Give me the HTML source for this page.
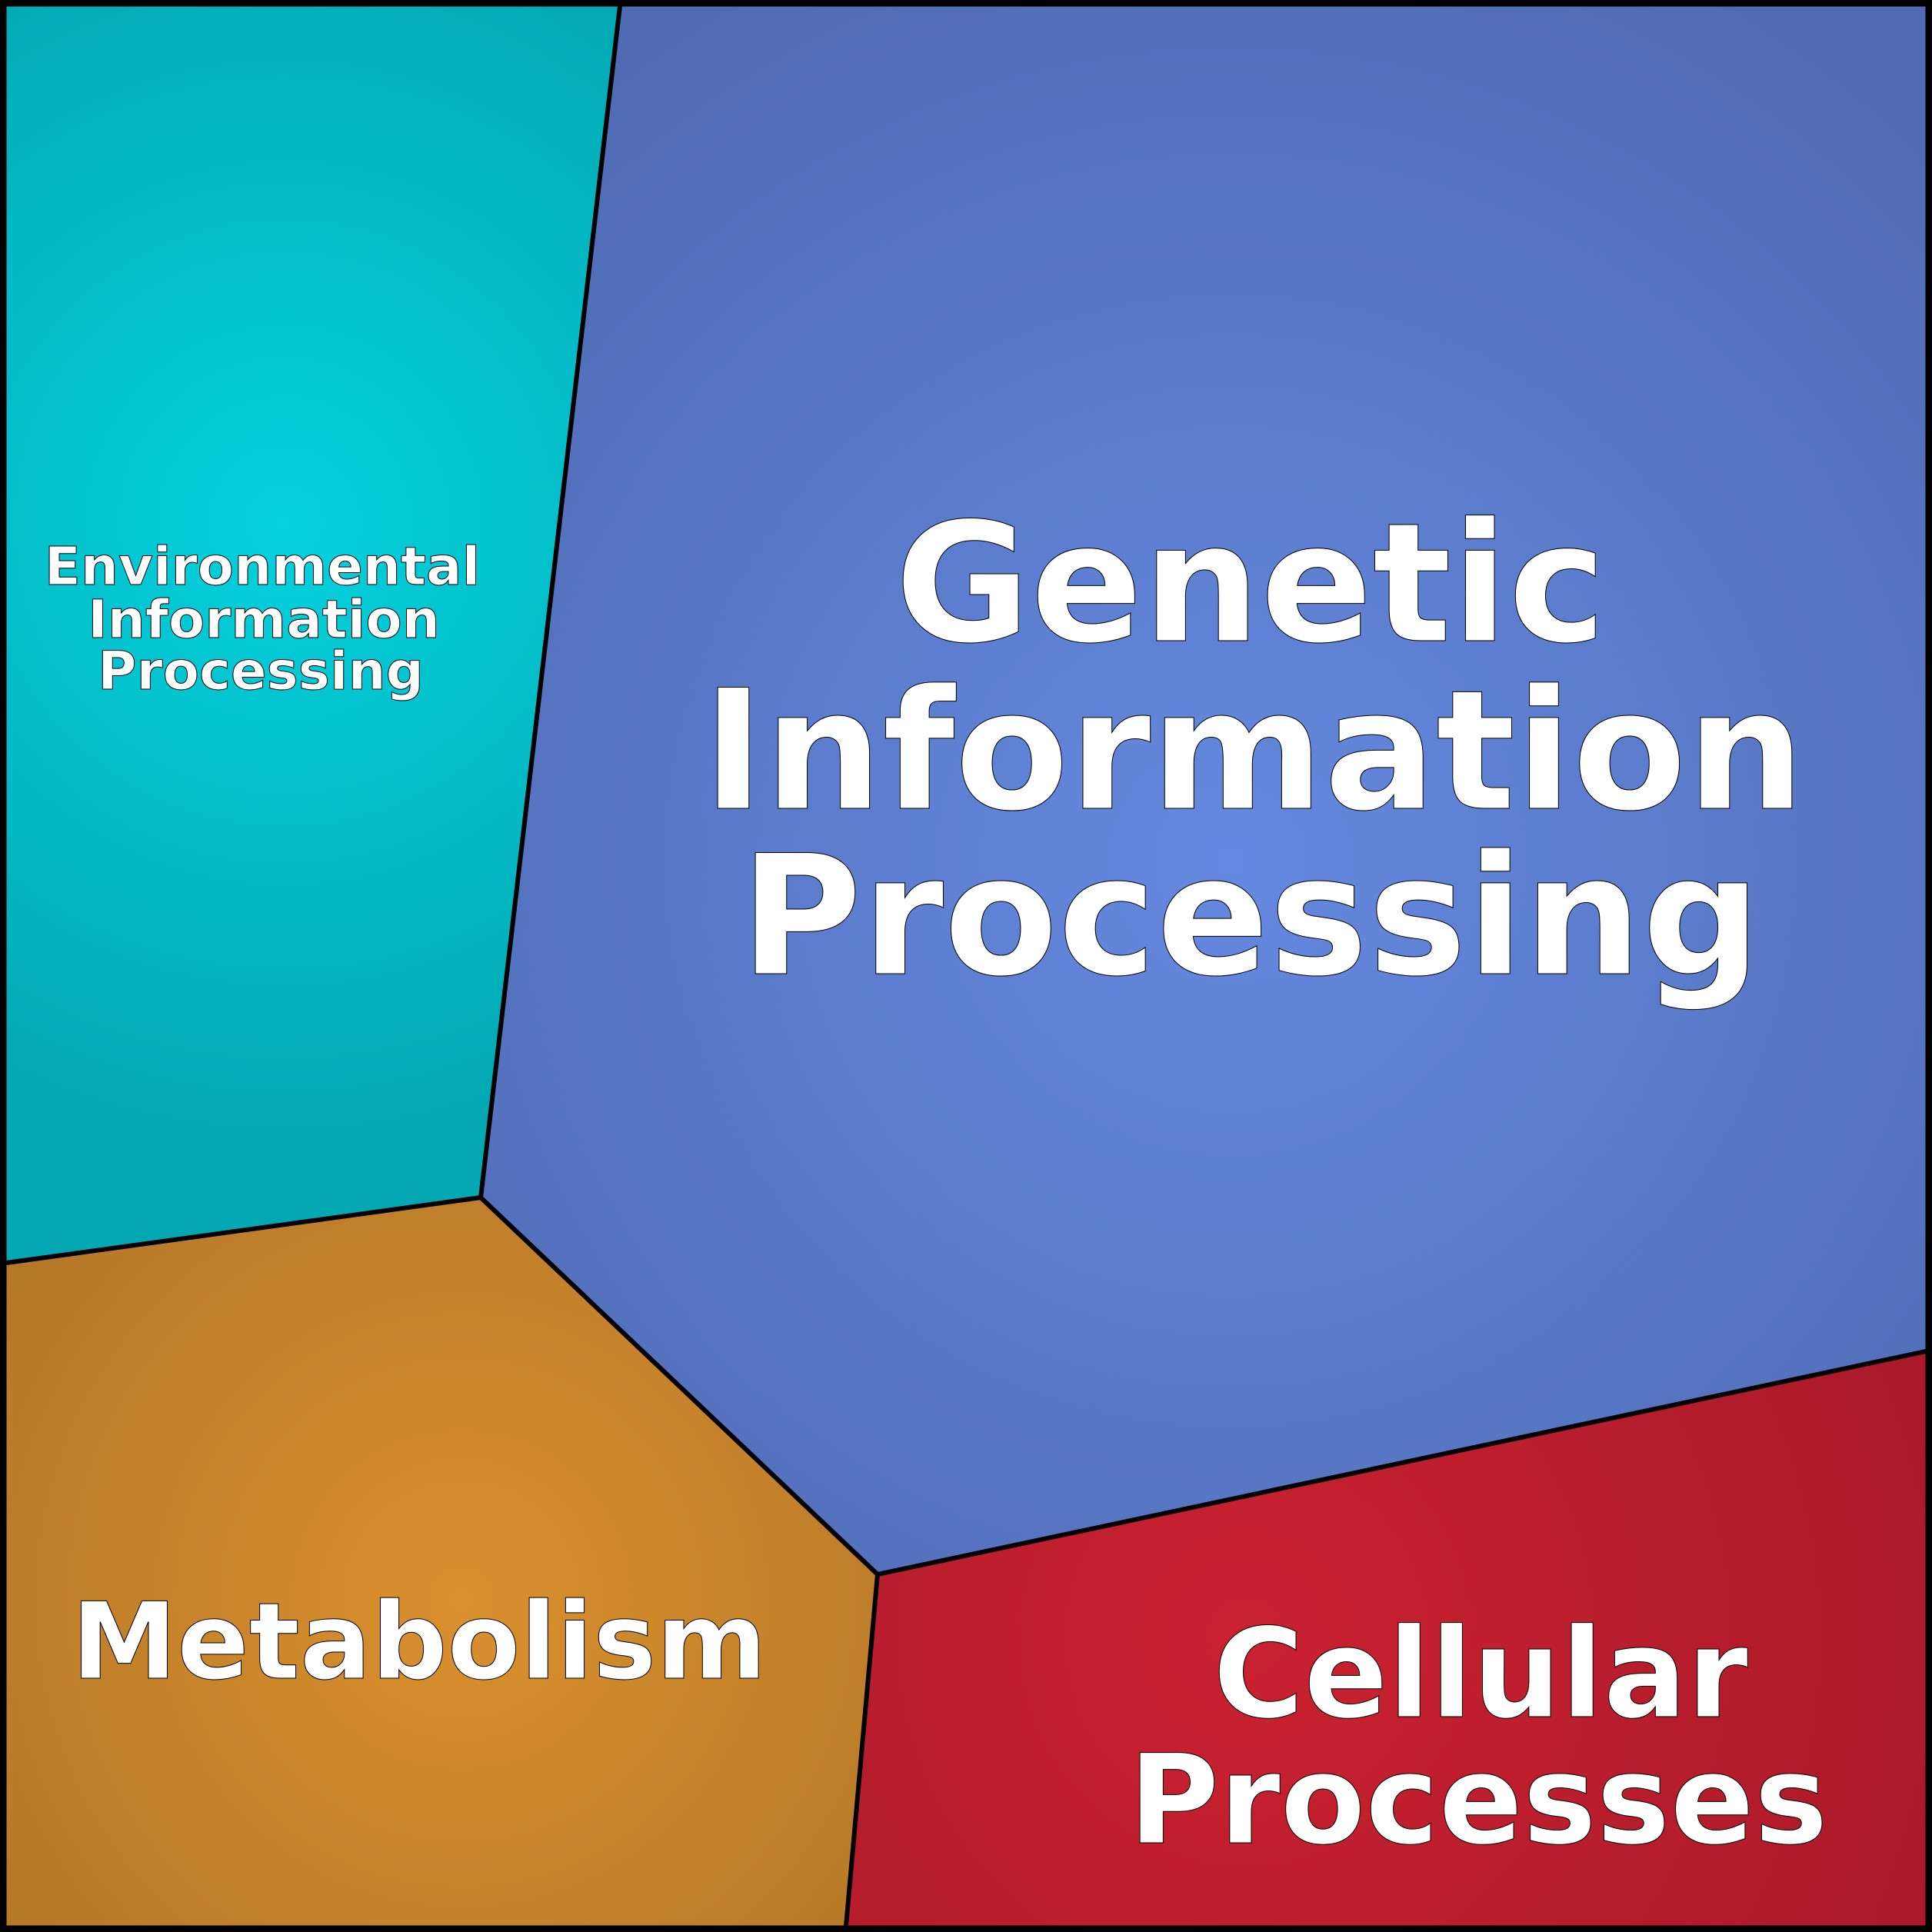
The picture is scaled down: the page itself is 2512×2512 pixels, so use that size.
<!DOCTYPE html>
<html><head><style>html,body{margin:0;padding:0;background:#000}svg{display:block}</style></head><body>
<svg width="2512" height="2512" viewBox="0 0 2512 2512" xmlns="http://www.w3.org/2000/svg">
<defs>
<radialGradient id="gc" gradientUnits="userSpaceOnUse" cx="370" cy="680" r="800"><stop offset="0" stop-color="#05d2de"/><stop offset="1" stop-color="#03a8b3"/></radialGradient>
<radialGradient id="gb" gradientUnits="userSpaceOnUse" cx="1600" cy="1120" r="1300"><stop offset="0" stop-color="#6589e0"/><stop offset="1" stop-color="#4f6bb3"/></radialGradient>
<radialGradient id="go" gradientUnits="userSpaceOnUse" cx="600" cy="2080" r="800"><stop offset="0" stop-color="#da902e"/><stop offset="1" stop-color="#b17528"/></radialGradient>
<radialGradient id="gr" gradientUnits="userSpaceOnUse" cx="1620" cy="2130" r="1000"><stop offset="0" stop-color="#ca2130"/><stop offset="1" stop-color="#a8192a"/></radialGradient>
</defs>
<rect x="0" y="0" width="2512" height="2512" fill="#000"/>
<polygon points="8,8 806,8 625,1557 8,1642" fill="url(#gc)"/>
<polygon points="806,8 2504,8 2504,1757 1141,2047 625,1557" fill="url(#gb)"/>
<polygon points="8,1642 625,1557 1141,2047 1100,2504 8,2504" fill="url(#go)"/>
<polygon points="1141,2047 2504,1757 2504,2504 1100,2504" fill="url(#gr)"/>
<g fill="none" stroke="#000" stroke-width="6" stroke-linejoin="round">
<polyline points="806,8 625,1557 8,1642"/>
<polyline points="625,1557 1141,2047 2504,1757"/>
<polyline points="1141,2047 1100,2504"/>
</g>
<rect x="4" y="4" width="2504" height="2504" fill="none" stroke="#000" stroke-width="9" rx="4"/>
<g font-family="'DejaVu Sans','Liberation Sans',sans-serif" font-weight="bold" fill="#fff" stroke="#000" stroke-width="1" text-anchor="middle">
<text font-size="215" x="1626" y="833">Genetic</text>
<text font-size="216" x="1630" y="1051">Information</text>
<text font-size="216" x="1626" y="1266">Processing</text>
<text font-size="69" x="341" y="760">Environmental</text>
<text font-size="69" x="343" y="829">Information</text>
<text font-size="69" x="339" y="896">Processing</text>
<text font-size="138" x="545" y="2182">Metabolism</text>
<text font-size="161" x="1925" y="2232">Cellular</text>
<text font-size="161" x="1922" y="2396">Processes</text>
</g>
</svg>
</body></html>
